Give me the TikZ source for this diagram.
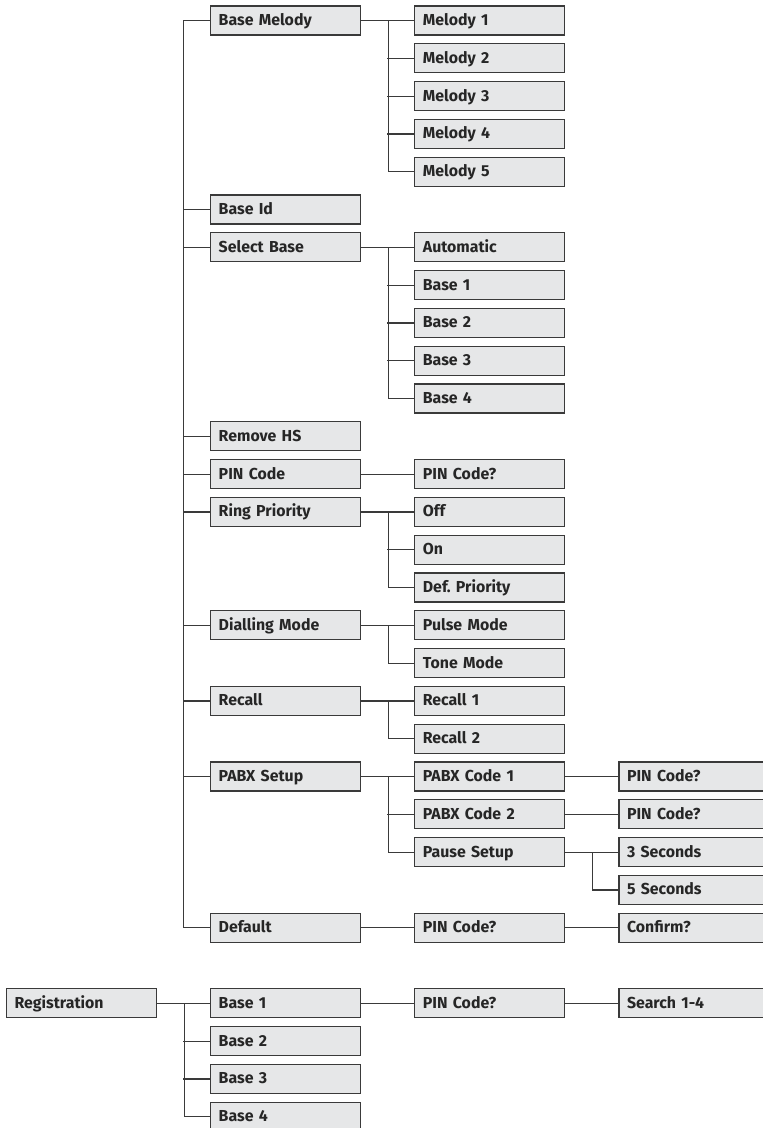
\documentclass[tikz,border=0pt]{standalone}
\usepackage{fontspec}
\setmainfont{Fira Sans}

\definecolor{boxfill}{HTML}{E6E7E8}
\definecolor{boxline}{HTML}{3A3A3A}
\definecolor{boxtext}{HTML}{262626}

\tikzset{
	menubox/.style={draw=boxline, fill=boxfill, line width=0.85pt, anchor=west,
		minimum height=0.725cm, text width=3.35cm, inner xsep=0.2cm, inner ysep=0pt,
		align=left, text height=0.7em, text depth=0pt, text=boxtext,
		font=\bfseries\fontsize{11.3}{13}\selectfont\frenchspacing},
	branch/.style={draw=boxline, line width=0.85pt},
}

\begin{document}
\begin{tikzpicture}[x=0.025cm, y=-0.945cm]
	\useasboundingbox (0,-0.5423) rectangle (763,29.299);

	\node[menubox] (basemelody) at (210.2,0) {Base Melody};
	\node[menubox] (baseid) at (210.2,5) {Base Id};
	\node[menubox] (selectbase) at (210.2,6) {Select Base};
	\node[menubox] (removehs) at (210.2,11) {Remove HS};
	\node[menubox] (pincode) at (210.2,12) {PIN Code};
	\node[menubox] (ringprio) at (210.2,13) {Ring Priority};
	\node[menubox] (dialmode) at (210.2,16) {Dialling Mode};
	\node[menubox] (recall) at (210.2,18) {Recall};
	\node[menubox] (pabxsetup) at (210.2,20) {PABX Setup};
	\node[menubox] (default) at (210.2,24) {Default};

	\node[menubox] (melody1) at (414.4,0) {Melody 1};
	\node[menubox] (melody2) at (414.4,1) {Melody 2};
	\node[menubox] (melody3) at (414.4,2) {Melody 3};
	\node[menubox] (melody4) at (414.4,3) {Melody 4};
	\node[menubox] (melody5) at (414.4,4) {Melody 5};
	\node[menubox] (automatic) at (414.4,6) {Automatic};
	\node[menubox] (selbase1) at (414.4,7) {Base 1};
	\node[menubox] (selbase2) at (414.4,8) {Base 2};
	\node[menubox] (selbase3) at (414.4,9) {Base 3};
	\node[menubox] (selbase4) at (414.4,10) {Base 4};
	\node[menubox] (pinquery) at (414.4,12) {PIN Code?};
	\node[menubox] (off) at (414.4,13) {Off};
	\node[menubox] (on) at (414.4,14) {On};
	\node[menubox] (defprio) at (414.4,15) {Def. Priority};
	\node[menubox] (pulse) at (414.4,16) {Pulse Mode};
	\node[menubox] (tone) at (414.4,17) {Tone Mode};
	\node[menubox] (recall1) at (414.4,18) {Recall 1};
	\node[menubox] (recall2) at (414.4,19) {Recall 2};
	\node[menubox] (pabxcode1) at (414.4,20) {PABX Code 1};
	\node[menubox] (pabxcode2) at (414.4,21) {PABX Code 2};
	\node[menubox] (pausesetup) at (414.4,22) {Pause Setup};
	\node[menubox] (defpin) at (414.4,24) {PIN Code?};

	\node[menubox] (pabxpin1) at (618.6,20) {PIN Code?};
	\node[menubox] (pabxpin2) at (618.6,21) {PIN Code?};
	\node[menubox] (sec3) at (618.6,22) {3 Seconds};
	\node[menubox] (sec5) at (618.6,23) {5 Seconds};
	\node[menubox] (confirm) at (618.6,24) {Confirm?};

	% registration menu
	\node[menubox] (registration) at (6,26) {Registration};
	\node[menubox] (regbase1) at (210.2,26) {Base 1};
	\node[menubox] (regbase2) at (210.2,27) {Base 2};
	\node[menubox] (regbase3) at (210.2,28) {Base 3};
	\node[menubox] (regbase4) at (210.2,29) {Base 4};
	\node[menubox] (regpin) at (414.4,26) {PIN Code?};
	\node[menubox] (search) at (618.6,26) {Search 1-4};

	\coordinate (trunk) at (183.2,0);
	\draw[branch] (basemelody.west) -- (trunk) |- (default.west);
	\draw[branch] (baseid.west) -- ++(-27,0);
	\draw[branch] (selectbase.west) -- ++(-27,0);
	\draw[branch] (removehs.west) -- ++(-27,0);
	\draw[branch] (pincode.west) -- ++(-27,0);
	\draw[branch] (ringprio.west) -- ++(-27,0);
	\draw[branch] (dialmode.west) -- ++(-27,0);
	\draw[branch] (recall.west) -- ++(-27,0);
	\draw[branch] (pabxsetup.west) -- ++(-27,0);

	\draw[branch] (basemelody.east) -- (melody1.west);
	\draw[branch] (basemelody.east) ++(27,0) |- (melody5.west);
	\draw[branch] (melody2.west) -- ++(-27,0);
	\draw[branch] (melody3.west) -- ++(-27,0);
	\draw[branch] (melody4.west) -- ++(-27,0);

	\draw[branch] (selectbase.east) -- (automatic.west);
	\draw[branch] (selectbase.east) ++(27,0) |- (selbase4.west);
	\draw[branch] (selbase1.west) -- ++(-27,0);
	\draw[branch] (selbase2.west) -- ++(-27,0);
	\draw[branch] (selbase3.west) -- ++(-27,0);

	\draw[branch] (pincode.east) -- (pinquery.west);

	\draw[branch] (ringprio.east) -- (off.west);
	\draw[branch] (ringprio.east) ++(27,0) |- (defprio.west);
	\draw[branch] (on.west) -- ++(-27,0);

	\draw[branch] (dialmode.east) -- (pulse.west);
	\draw[branch] (dialmode.east) ++(27,0) |- (tone.west);

	\draw[branch] (recall.east) -- (recall1.west);
	\draw[branch] (recall.east) ++(27,0) |- (recall2.west);

	\draw[branch] (pabxsetup.east) -- (pabxcode1.west);
	\draw[branch] (pabxsetup.east) ++(27,0) |- (pausesetup.west);
	\draw[branch] (pabxcode2.west) -- ++(-27,0);
	\draw[branch] (pabxcode1.east) -- (pabxpin1.west);
	\draw[branch] (pabxcode2.east) -- (pabxpin2.west);
	\draw[branch] (pausesetup.east) -- (sec3.west);
	\draw[branch] (pausesetup.east) ++(27,0) |- (sec5.west);

	\draw[branch] (default.east) -- (defpin.west);
	\draw[branch] (defpin.east) -- (confirm.west);

	\draw[branch] (registration.east) -- (regbase1.west);
	\draw[branch] (registration.east) ++(27,0) |- (regbase4.west);
	\draw[branch] (regbase2.west) -- ++(-27,0);
	\draw[branch] (regbase3.west) -- ++(-27,0);
	\draw[branch] (regbase1.east) -- (regpin.west);
	\draw[branch] (regpin.east) -- (search.west);
\end{tikzpicture}
\end{document}
